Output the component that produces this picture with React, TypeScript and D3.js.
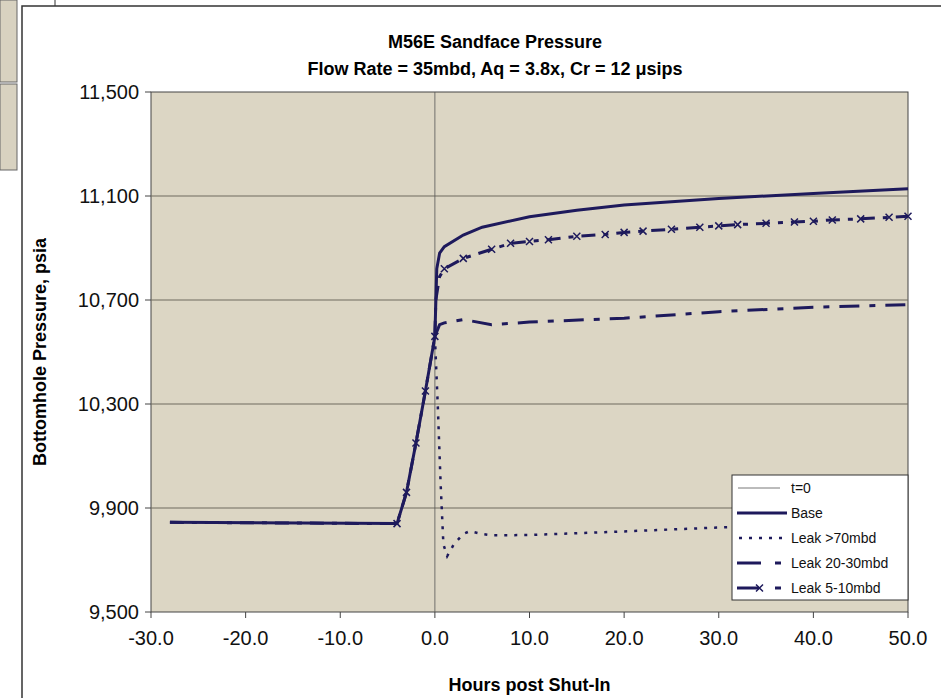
import React from "react";
import * as d3 from "d3";

const baseX = [-28, -4, -3, -2, -1, 0, 0.2, 0.5, 1, 3, 5, 10, 15, 20, 30, 40, 50];
const baseY = [9845, 9840, 9960, 10150, 10350, 10560, 10820, 10880, 10905, 10950, 10980, 11020, 11045, 11065, 11090, 11110, 11128];
const l70X = [0, 0.3, 0.6, 0.9, 1.3, 2, 3, 3.7, 5, 6, 10, 20, 30, 40, 50];
const l70Y = [10560, 10300, 10000, 9760, 9715, 9760, 9800, 9811, 9800, 9795, 9796, 9810, 9825, 9835, 9840];
const l20X = [0, 0.5, 1, 3, 6, 10, 20, 30, 40, 50];
const l20Y = [10560, 10605, 10612, 10625, 10605, 10615, 10630, 10655, 10672, 10682];
const l5X = [-28, -4, -3, -2, -1, 0, 0.1, 0.5, 1, 3, 6, 8, 10, 12, 15, 18, 20, 22, 25, 28, 30, 32, 35, 38, 40, 42, 45, 48, 50];
const l5Y = [9845, 9840, 9960, 10150, 10350, 10560, 10700, 10790, 10820, 10860, 10895, 10918, 10925, 10932, 10945, 10952, 10960, 10965, 10972, 10980, 10985, 10990, 10995, 11000, 11003, 11008, 11012, 11018, 11022];
const yTicks = [9500, 9900, 10300, 10700, 11100, 11500];
const xTicks = [-30, -20, -10, 0, 10, 20, 30, 40, 50];
const legendNames = ["t=0", "Base", "Leak >70mbd", "Leak 20-30mbd", "Leak 5-10mbd"];

const C = "#1e1a5c";

export default function App() {
  const L = 151, R = 908, T = 92, B = 612;
  const x = d3.scaleLinear().domain([-30, 50]).range([L, R]);
  const y = d3.scaleLinear().domain([9500, 11500]).range([B, T]);
  const line = (xs: number[], ys: number[]) =>
    d3.line<number>().x((_, i) => x(xs[i])).y((_, i) => y(ys[i]))(xs.map((_, i) => i)) || "";
  const font = "Liberation Sans, Arial, sans-serif";
  const fmt = d3.format(",");
  const markers = l5X.filter((v) => v >= -4 && v !== 0.1 && v !== 0.5);
  return (
    <svg width={941} height={698} style={{ position: "absolute", left: 0, top: 0 }} fontFamily={font}>
      <rect x={0} y={0} width={941} height={698} fill="#fff" />
      <rect x={0} y={0} width={17} height={82} fill="#d8d2c0" stroke="#666" />
      <rect x={0} y={84} width={17} height={86} fill="#d8d2c0" stroke="#666" />
      <line x1={55} y1={0} x2={55} y2={6} stroke="#333" />
      <path d="M22,698 L22,6 L941,6" fill="none" stroke="#333" strokeWidth={1.5} />
      <rect x={L} y={T} width={R - L} height={B - T} fill="#dcd6c4" stroke="#444" />
      {yTicks.map((t) => (
        <g key={t}>
          {t !== 9500 && t !== 11500 && <line x1={L} x2={R} y1={y(t)} y2={y(t)} stroke="#6f6a5e" strokeWidth={1} />}
          <line x1={L - 6} x2={L} y1={y(t)} y2={y(t)} stroke="#444" />
          <text x={L - 12} y={y(t) + 7} fontSize={20} textAnchor="end" fill="#111">{fmt(t)}</text>
        </g>
      ))}
      {xTicks.map((t) => (
        <g key={t}>
          <line x1={x(t)} x2={x(t)} y1={B} y2={B + 6} stroke="#444" />
          <text x={x(t)} y={B + 33} fontSize={20} textAnchor="middle" fill="#111">{t.toFixed(1)}</text>
        </g>
      ))}
      <line x1={x(0)} x2={x(0)} y1={T} y2={B} stroke="#555" strokeWidth={0.8} />
      <path d={line(l70X, l70Y)} fill="none" stroke={C} strokeWidth={2.5} strokeDasharray="3,7" />
      <path d={line(l20X, l20Y)} fill="none" stroke={C} strokeWidth={3} strokeDasharray="20,10,6,10" />
      <path d={line(l5X, l5Y)} fill="none" stroke={C} strokeWidth={3} strokeDasharray="14,8,5,8" />
      {markers.map((v, i) => {
        const idx = l5X.indexOf(v);
        const cx = x(v), cy = y(l5Y[idx]);
        return <path key={i} d={`M${cx - 3.5},${cy - 3.5}L${cx + 3.5},${cy + 3.5}M${cx - 3.5},${cy + 3.5}L${cx + 3.5},${cy - 3.5}`} stroke={C} strokeWidth={1.5} />;
      })}
      <path d={line(baseX, baseY)} fill="none" stroke={C} strokeWidth={3} />
      <text x={495} y={48} fontSize={18} fontWeight="bold" textAnchor="middle">M56E Sandface Pressure</text>
      <text x={495} y={75} fontSize={18} fontWeight="bold" textAnchor="middle">Flow Rate = 35mbd, Aq = 3.8x, Cr = 12 μsips</text>
      <text transform={`translate(46,${(T + B) / 2}) rotate(-90)`} fontSize={18} fontWeight="bold" textAnchor="middle">Bottomhole Pressure, psia</text>
      <text x={(L + R) / 2} y={691} fontSize={18} fontWeight="bold" textAnchor="middle">Hours post Shut-In</text>
      <g>
        <rect x={732} y={475} width={176} height={125} fill="#fff" stroke="#333" />
        {legendNames.map((n, i) => {
          const ly = 488 + i * 25;
          return (
            <g key={n}>
              {i === 0 && <line x1={738} x2={780} y1={ly} y2={ly} stroke="#555" strokeWidth={0.8} />}
              {i === 1 && <line x1={737} x2={787} y1={ly} y2={ly} stroke={C} strokeWidth={3} />}
              {i === 2 && <line x1={739} x2={785} y1={ly} y2={ly} stroke={C} strokeWidth={2.5} strokeDasharray="3,7" />}
              {i === 3 && <line x1={737} x2={785} y1={ly} y2={ly} stroke={C} strokeWidth={3} strokeDasharray="24,14,6,10" />}
              {i === 4 && (
                <g>
                  <line x1={737} x2={785} y1={ly} y2={ly} stroke={C} strokeWidth={3} strokeDasharray="22,16,6,10" />
                  <path d={`M756,${ly - 3.5}L763,${ly + 3.5}M756,${ly + 3.5}L763,${ly - 3.5}`} stroke={C} strokeWidth={1.5} />
                </g>
              )}
              <text x={791} y={ly + 5} fontSize={14} fill="#111">{n}</text>
            </g>
          );
        })}
      </g>
    </svg>
  );
}
